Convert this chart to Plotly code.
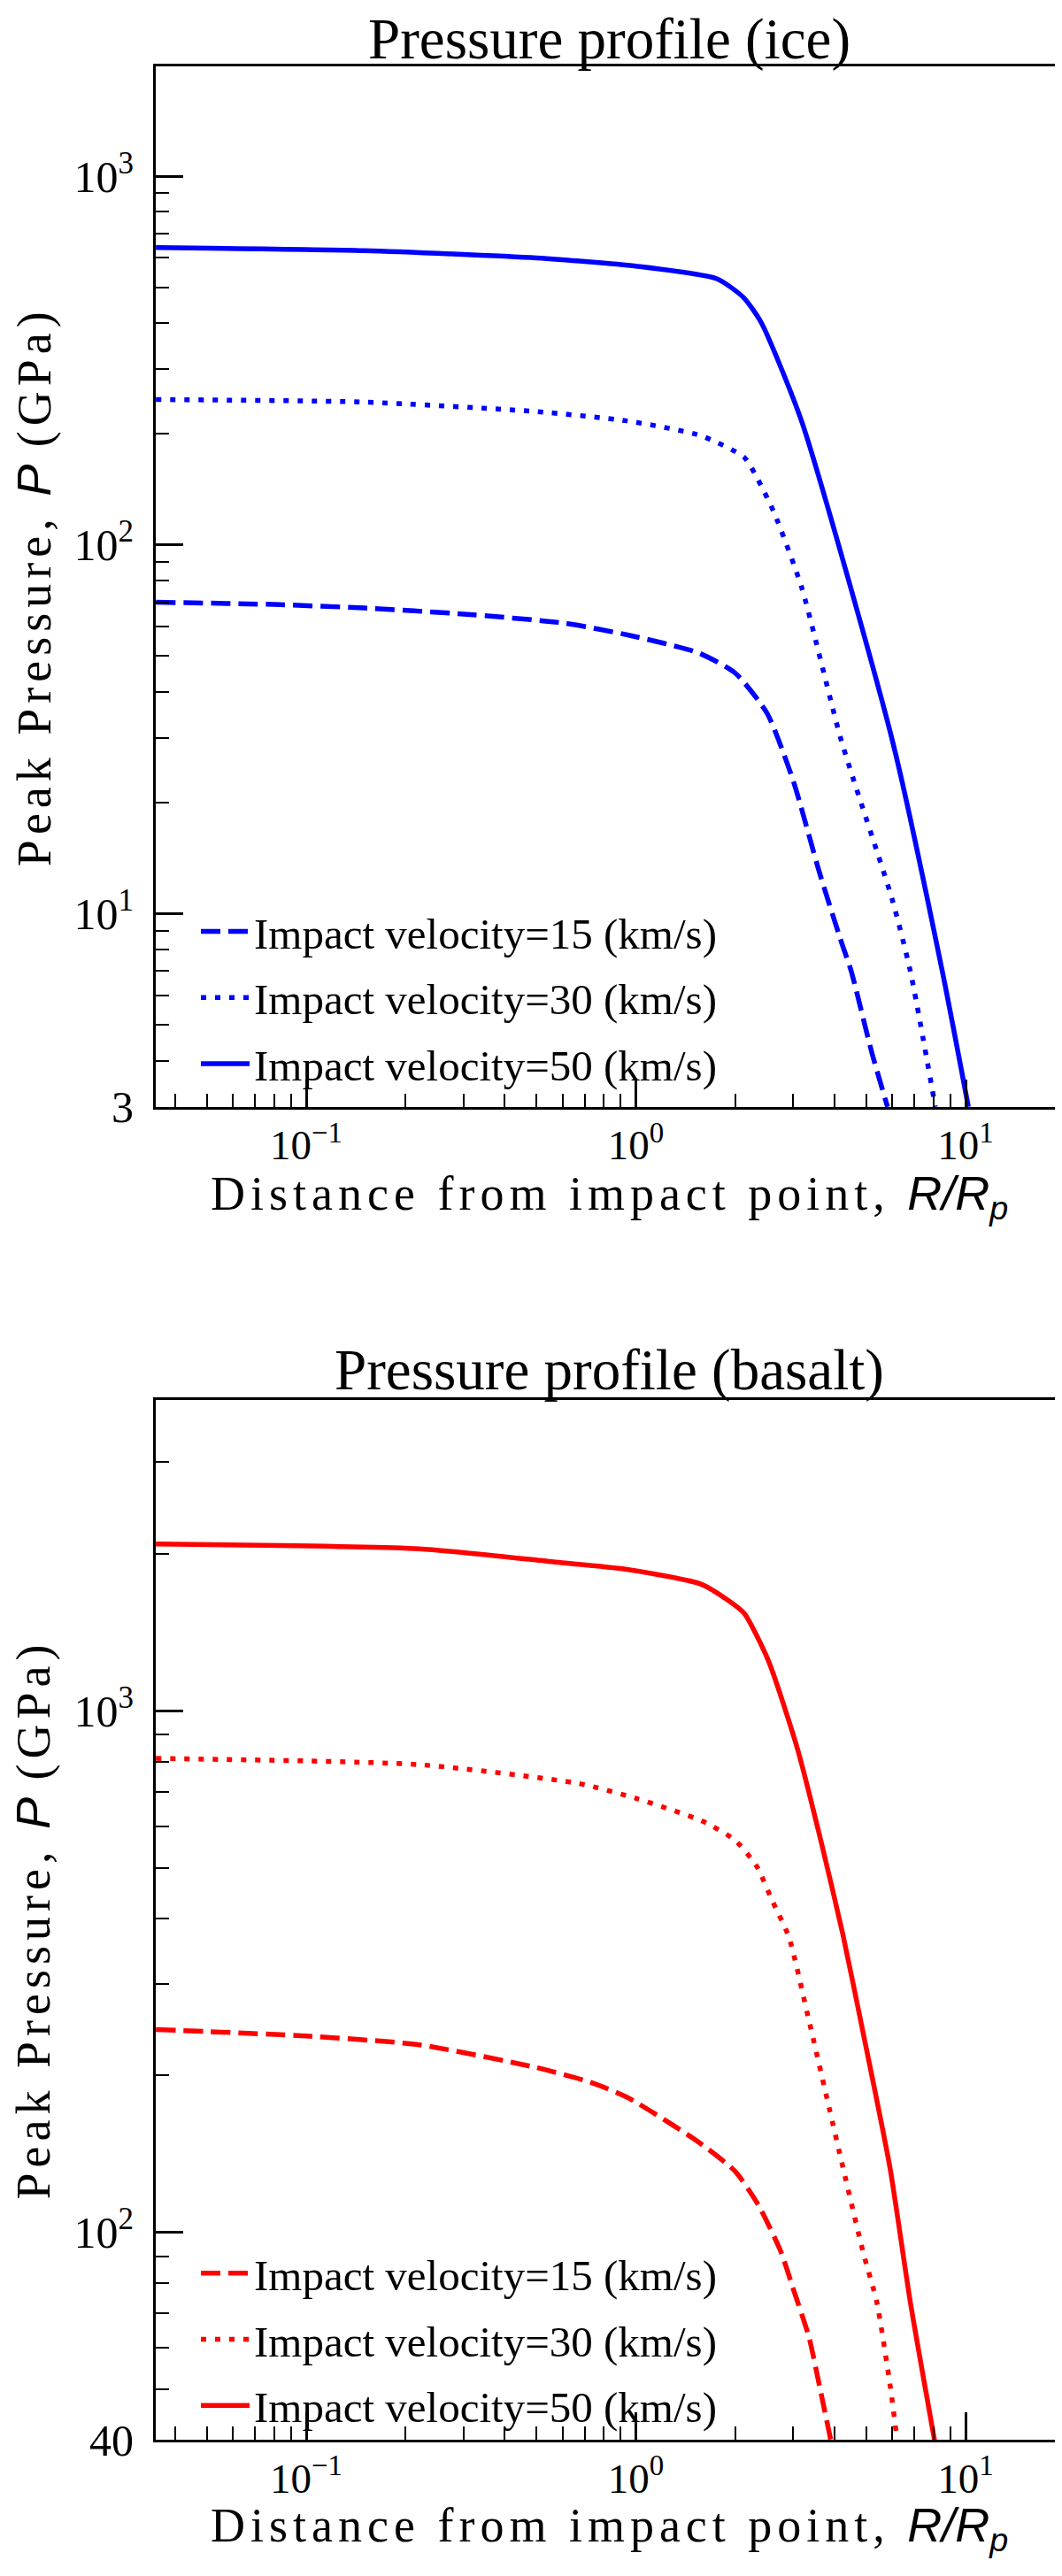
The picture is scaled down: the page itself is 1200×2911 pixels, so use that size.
import plotly.graph_objects as go

# ---- ice: distance R/Rp and peak pressure (GPa) ----
ice_r15 = [0.035, 0.08, 0.15, 0.3, 0.6, 0.95, 1.55, 2.0, 2.5, 3.0, 3.6, 4.2, 4.5, 5.2, 5.8]
ice_p15 = [70, 69, 67.5, 65, 61.5, 57, 51, 45, 35, 23, 13, 8.4, 7.0, 4.2, 3.0]

ice_r30 = [0.035, 0.15, 0.5, 0.94, 1.57, 2.13, 2.35, 2.63, 3.18, 4.2, 6.0, 6.8, 8.1]
ice_p30 = [248, 244, 230, 217, 198, 173, 150, 122, 77, 29.5, 10.9, 7.0, 3.0]

ice_r50 = [0.035, 0.15, 0.5, 1.0, 1.76, 2.12, 2.4, 3.18, 6.0, 8.5, 10.2]
ice_p50 = [640, 628, 600, 570, 527, 469, 401, 217, 29.5, 7.0, 3.0]

# ---- basalt ----
bas_r15 = [0.035, 0.1, 0.22, 0.5, 0.73, 0.95, 1.55, 2.0, 2.35, 2.75, 3.0, 3.35, 3.6, 3.9]
bas_p15 = [245, 238, 229, 207, 194, 181, 149, 131, 113, 92, 78, 63, 51, 40]

bas_r30 = [0.035, 0.22, 0.67, 1.0, 1.6, 2.0, 2.32, 2.6, 2.91, 3.35, 3.86, 4.25, 4.89, 5.38, 5.91, 6.2]
bas_p30 = [811, 789, 726, 680, 614, 565, 505, 431, 369, 255, 173, 133, 91.6, 73.5, 50.7, 40]

bas_r50 = [0.035, 0.22, 0.57, 0.93, 1.57, 1.88, 2.13, 2.52, 3.09, 3.65, 4.24, 4.9, 5.9, 6.8, 8.05]
bas_p50 = [2090, 2047, 1930, 1871, 1753, 1640, 1540, 1251, 847, 560, 374, 240, 133, 73.5, 40]

labels = ["Impact velocity=15 (km/s)", "Impact velocity=30 (km/s)", "Impact velocity=50 (km/s)"]
dashes = ["22px,9px", "6px,10px", "solid"]

x_ticks = [0.1, 1, 10]
x_ticktext = ["10<sup>\u22121</sup>", "10<sup>0</sup>", "10<sup>1</sup>"]
x_minor = [0.04, 0.05, 0.06, 0.07, 0.08, 0.09, 0.2, 0.3, 0.4, 0.5, 0.6, 0.7, 0.8, 0.9,
           2, 3, 4, 5, 6, 7, 8, 9]

ice_ticks = [3, 10, 100, 1000]
ice_ticktext = ["3", "10<sup>1</sup>", "10<sup>2</sup>", "10<sup>3</sup>"]
ice_minor = [4, 5, 6, 7, 8, 9, 20, 30, 40, 50, 60, 70, 80, 90,
             200, 300, 400, 500, 600, 700, 800, 900]

bas_ticks = [40, 100, 1000]
bas_ticktext = ["40", "10<sup>2</sup>", "10<sup>3</sup>"]
bas_minor = [50, 60, 70, 80, 90, 200, 300, 400, 500, 600, 700, 800, 900, 2000, 3000]

W, H = 1200, 2911
SERIF = "Liberation Serif"

fig = go.Figure()

ice = [(ice_r15, ice_p15), (ice_r30, ice_p30), (ice_r50, ice_p50)]
bas = [(bas_r15, bas_p15), (bas_r30, bas_p30), (bas_r50, bas_p50)]

for i, (r, p) in enumerate(ice):
    fig.add_trace(go.Scatter(x=r, y=p, mode="lines", name=labels[i],
                             line=dict(color="#0000ff", width=5.5, dash=dashes[i],
                                       shape="spline", smoothing=0.6),
                             xaxis="x", yaxis="y", legend="legend",
                             legendgroup="i%d" % i))
for i, (r, p) in enumerate(bas):
    fig.add_trace(go.Scatter(x=r, y=p, mode="lines", name=labels[i],
                             line=dict(color="#ff0000", width=5.5, dash=dashes[i],
                                       shape="spline", smoothing=0.6),
                             xaxis="x2", yaxis="y2", legend="legend2",
                             legendgroup="b%d" % i))


def axis(tickvals, ticktext, minor, rng, domain, anchor, standoff=0, size=50):
    return dict(type="log", range=rng, domain=domain, anchor=anchor,
                showline=True, linecolor="black", linewidth=3, mirror=True,
                ticks="inside", ticklen=31, tickwidth=2.5, tickcolor="black",
                showgrid=False, zeroline=False, ticklabelstandoff=standoff,
                tickmode="array", tickvals=tickvals, ticktext=ticktext,
                tickfont=dict(family=SERIF, size=size, color="black"),
                minor=dict(tickvals=minor, ticks="inside", ticklen=15,
                           tickwidth=2, tickcolor="black", showgrid=False))


def px_x(v):
    return v / W


def px_y(v):
    return 1 - v / H


xdom = [px_x(168), px_x(1193)]
xr = [-1.4564, 1.2953]

legend_style = dict(xanchor="left", yanchor="top", bgcolor="rgba(0,0,0,0)",
                    traceorder="grouped", tracegroupgap=8, itemwidth=55,
                    font=dict(family=SERIF, size=49, color="black"))

fig.update_layout(
    width=W, height=H,
    margin=dict(l=0, r=0, t=0, b=0),
    paper_bgcolor="white", plot_bgcolor="white",
    font=dict(family=SERIF, color="black"),
    xaxis=axis(x_ticks, x_ticktext, x_minor, xr, xdom, "y", size=47),
    yaxis=axis(ice_ticks, ice_ticktext, ice_minor, [0.4769, 3.2966],
               [px_y(1255), px_y(68)], "x", standoff=12),
    xaxis2=axis(x_ticks, x_ticktext, x_minor, xr, xdom, "y2", size=47),
    yaxis2=axis(bas_ticks, bas_ticktext, bas_minor, [1.6019, 3.597],
                [px_y(2776), px_y(1589)], "x2", standoff=12),
    legend=dict(x=px_x(214), y=px_y(1016), **legend_style),
    legend2=dict(x=px_x(214), y=px_y(2547), **legend_style),
)

sans_r = '<span style="font-family:Liberation Sans"><i>R/R<sub>p</sub></i></span>'
sans_p = '<span style="font-family:Liberation Sans"><i>P</i></span>'
xtitle = ('<span style="letter-spacing:6px">Distance from impact point, </span>' + sans_r)
ytitle = ('<span style="letter-spacing:6px">Peak Pressure, </span>' + sans_p +
          '<span style="letter-spacing:6px"> (GPa)</span>')

cx = (168 + 1193) / 2 / W
notes = [
    ("Pressure profile (ice)", cx, px_y(36), 0, 65),
    ("Pressure profile (basalt)", cx, px_y(1555), 0, 65),
    (xtitle, cx, px_y(1357), 0, 54),
    (xtitle, cx, px_y(2877), 0, 54),
    (ytitle, px_x(30), px_y((68 + 1255) / 2), -90, 54),
    (ytitle, px_x(30), px_y((1589 + 2776) / 2), -90, 54),
]
for text, x, y, ang, size in notes:
    fig.add_annotation(text=text, x=x, y=y, xref="paper", yref="paper",
                       xanchor="center", yanchor="middle", showarrow=False,
                       textangle=ang, font=dict(family=SERIF, size=size, color="black"))

fig.write_html("out.html")
